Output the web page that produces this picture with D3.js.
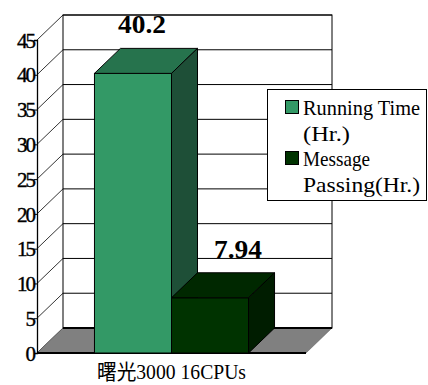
<!DOCTYPE html>
<html>
<head>
<meta charset="utf-8">
<script src="https://cdn.jsdelivr.net/npm/d3@7"></script>
<style>
  body { margin: 0; background: #fff; }
  svg { display: block; }
</style>
</head>
<body>
<svg id="chart" width="428" height="385"></svg>
<script>
var categories = ["曙光3000 16CPUs"];
var seriesNames = ["Running Time (Hr.)", "Message Passing(Hr.)"];
var runningTime = [40.2];
var messagePassing = [7.94];
var yTicks = [0, 5, 10, 15, 20, 25, 30, 35, 40, 45];
var legendLines = [["Running Time", "(Hr.)"], ["Message", "Passing(Hr.)"]];

var svg = d3.select("#chart");

// depth of the 3d box
var dx = 26, dy = -25;
var left = 37, right = 306;

var y = d3.scaleLinear().domain([0, 45]).range([353, 40]);
var x = d3.scaleBand().domain(categories).range([left, right]).paddingOuter(0.373).paddingInner(0);
var xs = d3.scaleBand().domain(seriesNames).range([0, x.bandwidth()]);

var colors = {
  front: ["#339966", "#003300"],
  top:   ["#26734d", "#002800"],
  side:  ["#1e4f37", "#001d00"]
};

// back wall
svg.append("rect")
  .attr("x", left + dx).attr("y", y(45) + dy)
  .attr("width", right - left).attr("height", y(0) - y(45))
  .attr("fill", "#fff").attr("stroke", "#000").attr("stroke-width", 1);

// gridlines on back wall
svg.append("g").selectAll("line").data(yTicks).enter().append("line")
  .attr("x1", left + dx).attr("x2", right + dx)
  .attr("y1", function (d) { return y(d) + dy; })
  .attr("y2", function (d) { return y(d) + dy; })
  .attr("stroke", "#000").attr("stroke-width", 1);

// side wall diagonals
svg.append("g").selectAll("line").data(yTicks).enter().append("line")
  .attr("x1", left).attr("x2", left + dx)
  .attr("y1", function (d) { return y(d); })
  .attr("y2", function (d) { return y(d) + dy; })
  .attr("stroke", "#000").attr("stroke-width", 0.8);

// floor
svg.append("path")
  .attr("d", "M" + left + "," + y(0) + "L" + right + "," + y(0) + "L" + (right + dx) + "," + (y(0) + dy) +
             "L" + (left + dx) + "," + (y(0) + dy) + "Z")
  .attr("fill", "#808080").attr("stroke", "#555").attr("stroke-width", 0.5);
svg.append("line")
  .attr("x1", left + dx).attr("x2", right + dx).attr("y1", y(0) + dy).attr("y2", y(0) + dy)
  .attr("stroke", "#000").attr("stroke-width", 2);
svg.append("line")
  .attr("x1", left).attr("x2", right).attr("y1", y(0)).attr("y2", y(0))
  .attr("stroke", "#000").attr("stroke-width", 2);

// y axis
var axis = svg.append("g").attr("transform", "translate(" + left + ",0)")
  .call(d3.axisLeft(y).tickValues(yTicks).tickSize(3).tickFormat(d3.format("d")));
axis.select(".domain").attr("stroke", "#000").attr("stroke-width", 1.3);
axis.selectAll("text")
  .attr("font-family", "'Liberation Serif', serif")
  .attr("font-size", 21).attr("fill", "#000")
  .attr("stroke", "#000").attr("stroke-width", 0.4)
  .attr("dy", "0.34em").attr("x", -3)
  .attr("letter-spacing", -2);

// bars
var bars = [];
categories.forEach(function (c, i) {
  bars.push({ cat: c, s: 0, v: runningTime[i] });
  bars.push({ cat: c, s: 1, v: messagePassing[i] });
});

var g = svg.append("g");
bars.forEach(function (b) {
  var x0 = x(b.cat) + xs(seriesNames[b.s]);
  var x1 = x0 + xs.bandwidth();
  var yt = y(b.v), yb = y(0);
  g.append("rect")
    .attr("x", x0).attr("y", yt).attr("width", x1 - x0).attr("height", yb - yt)
    .attr("fill", colors.front[b.s]).attr("stroke", "#000").attr("stroke-width", 1);
  g.append("path")
    .attr("d", "M" + x0 + "," + yt + "L" + (x0 + dx) + "," + (yt + dy) + "L" + (x1 + dx) + "," + (yt + dy) +
               "L" + x1 + "," + yt + "Z")
    .attr("fill", colors.top[b.s]).attr("stroke", "#000").attr("stroke-width", 1);
  g.append("path")
    .attr("d", "M" + x1 + "," + yt + "L" + (x1 + dx) + "," + (yt + dy) + "L" + (x1 + dx) + "," + (yb + dy) +
               "L" + x1 + "," + yb + "Z")
    .attr("fill", colors.side[b.s]).attr("stroke", "#000").attr("stroke-width", 1);
});

// value labels
var labelNudge = [-4, 15];
svg.append("g").selectAll("text").data(bars).enter().append("text")
  .attr("x", function (d) { return x(d.cat) + xs(seriesNames[d.s]) + xs.bandwidth() / 2 + dx / 2 + labelNudge[d.s]; })
  .attr("y", function (d) { return y(d.v) + dy - 15; })
  .attr("text-anchor", "middle")
  .attr("font-family", "'Liberation Serif', serif")
  .attr("font-weight", "bold").attr("font-size", 25)
  .attr("textLength", 48).attr("lengthAdjust", "spacingAndGlyphs")
  .text(function (d) { return d.v; });

// category label
svg.append("g").selectAll("text").data(categories).enter().append("text")
  .attr("x", function (d) { return x(d) + x.bandwidth() / 2; })
  .attr("y", 379)
  .attr("text-anchor", "middle")
  .attr("font-family", "'Liberation Serif', 'Noto Sans CJK SC', serif")
  .attr("font-size", 21)
  .attr("textLength", 149).attr("lengthAdjust", "spacingAndGlyphs")
  .text(function (d) { return d; });

// legend
var lg = svg.append("g");
lg.append("rect").attr("x", 267.5).attr("y", 89.5).attr("width", 159).attr("height", 111)
  .attr("fill", "#fff").attr("stroke", "#000").attr("stroke-width", 1);
legendLines.forEach(function (lines, i) {
  var base = 115 + i * 51;
  lg.append("rect").attr("x", 285.5).attr("y", base - 14.5).attr("width", 13).attr("height", 13)
    .attr("fill", colors.front[i]).attr("stroke", "#000").attr("stroke-width", 1);
  lines.forEach(function (t, j) {
    lg.append("text")
      .attr("x", 303).attr("y", base + j * 25.5)
      .attr("font-family", "'Liberation Serif', serif")
      .attr("font-size", 21)
      .attr("textLength", t.length * 10 - 3).attr("lengthAdjust", "spacingAndGlyphs")
      .text(t);
  });
});
</script>
</body>
</html>
